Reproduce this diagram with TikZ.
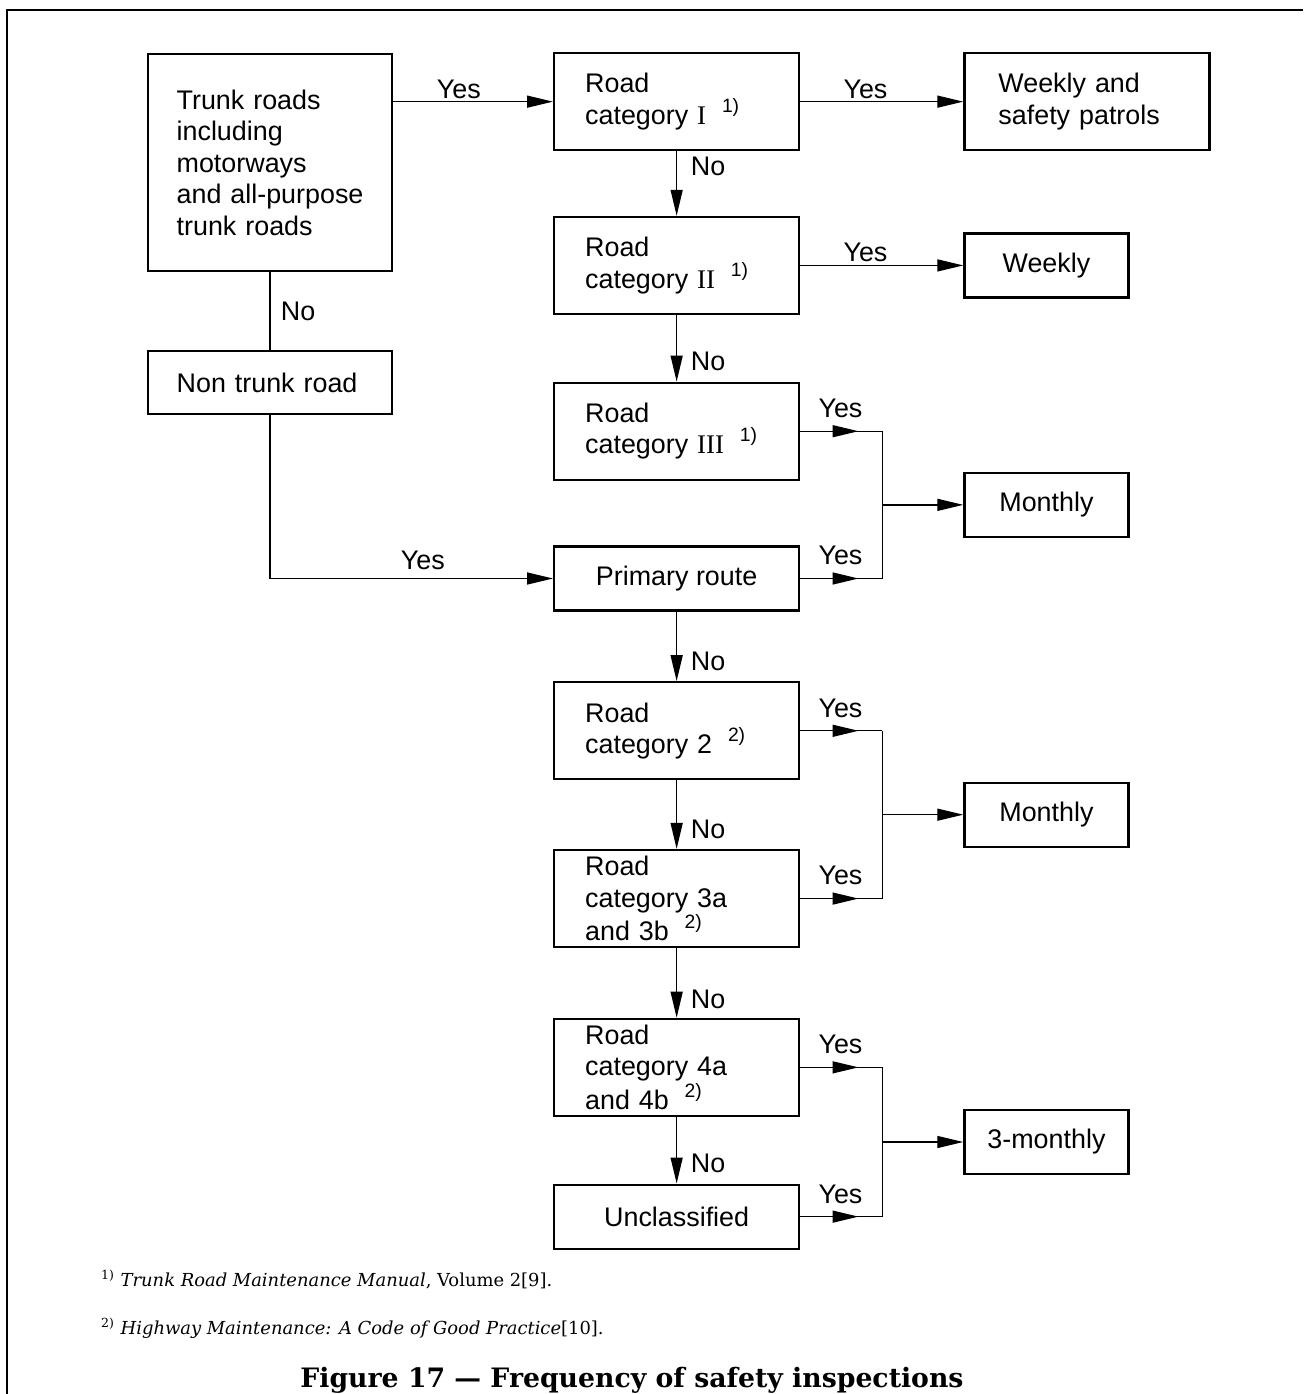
\documentclass[tikz,border=0pt]{standalone}
\usepackage{fontspec}
\setmainfont{Liberation Sans}
\newfontfamily\romnum{Liberation Serif}
\newfontfamily\notefont{DejaVu Serif}
\usetikzlibrary{arrows.meta,positioning,calc,decorations.markings}

\newcommand{\fnref}[1]{\hspace{9pt}\raisebox{0.45em}{\fontsize{11}{12}\selectfont #1}}

\begin{document}
\begin{tikzpicture}[
    font=\fontsize{15.3}{17.9}\selectfont,
    node distance=1.4cm and 3.26cm,
    qbox/.style={rectangle, draw, line width=1.3pt, minimum width=4.9cm, minimum height=1.94cm, text width=3.66cm, align=left, inner xsep=0.62cm, inner ysep=0pt},
    qsmall/.style={rectangle, draw, line width=1.3pt, minimum width=4.9cm, minimum height=1.28cm, align=center},
    abox/.style={rectangle, draw, line width=1.3pt, minimum width=3.28cm, minimum height=1.28cm, align=center},
    arr/.style={-{Triangle[length=0.52cm, width=0.24cm]}, line width=0.8pt},
    link/.style={line width=0.8pt},
    midarr/.style={line width=0.8pt, decoration={markings, mark=at position 0.71 with {\arrow{Triangle[length=0.52cm, width=0.24cm]}}}, postaction=decorate},
    yes/.style={above, inner sep=1.5pt},
    yesb/.style={above, inner sep=1.5pt, yshift=0.2cm},
    no/.style={right, inner sep=1.5pt, xshift=0.22cm}
]
    \useasboundingbox (0,0) rectangle (26.06,-27.88);
    % page frame
    \draw[line width=1.7pt] (0.14,-27.88) -- (0.14,-0.2) -- (26.06,-0.2);

    % left column
    \node[qbox, anchor=north west, minimum width=4.88cm, minimum height=4.34cm, text width=3.74cm, inner xsep=0.57cm] (trunk) at (2.94,-1.06) {Trunk roads\\including\\motorways\\and all-purpose\\trunk roads};
    \node[qbox, below=1.55cm of trunk, minimum width=4.88cm, minimum height=1.26cm, text width=3.74cm, inner xsep=0.57cm] (nontrunk) {Non trunk road};

    % main column
    \node[qbox, anchor=north west] (cat1) at (11.06,-1.04) {Road\\category {\romnum I}\fnref{1)}};
    \node[qbox, below=1.29cm of cat1] (cat2) {Road\\category {\romnum II}\fnref{1)}};
    \node[qbox, below=1.33cm of cat2] (cat3) {Road\\category {\romnum III}\fnref{1)}};
    \node[qsmall, below=1.29cm of cat3] (prim) {Primary route};
    \node[qbox, below=1.39cm of prim] (cat2b) {Road\\category 2\fnref{2)}};
    \node[qbox, below=1.37cm of cat2b] (cat3a) {Road\\category 3a\\and 3b\fnref{2)}};
    \node[qbox, below=1.39cm of cat3a] (cat4a) {Road\\category 4a\\and 4b\fnref{2)}};
    \node[qsmall, below=1.33cm of cat4a] (uncl) {Unclassified};

    % outcomes
    \node[qbox, right=3.26cm of cat1, inner xsep=0.68cm, text width=3.54cm] (wsafe) {Weekly and\\safety patrols};
    \node[abox, right=3.26cm of cat2] (weekly) {Weekly};
    \coordinate (j1) at ($(cat3.east)!0.5!(prim.east) + (1.64,0)$);
    \coordinate (j2) at ($(cat2b.east)!0.5!(cat3a.east) + (1.64,0)$);
    \coordinate (j3) at ($(cat4a.east)!0.5!(uncl.east) + (1.64,0)$);
    \node[abox, right=1.62cm of j1] (month1) {Monthly};
    \node[abox, right=1.62cm of j2] (month2) {Monthly};
    \node[abox, right=1.62cm of j3] (month3) {3-monthly};

    % left part
    \draw[arr] (cat1.west -| trunk.east) -- node[yes, pos=0.41] {Yes} (cat1.west);
    \draw[link] (trunk) -- node[right, inner sep=1.5pt, xshift=0.15cm] {No} (nontrunk);
    \draw[arr] (nontrunk) |- node[yes, pos=0.77, yshift=0.1cm] {Yes} (prim);

    % down the column
    \draw[arr] (cat1) -- node[no, pos=0.24] {No} (cat2);
    \draw[arr] (cat2) -- node[no, pos=0.7] {No} (cat3);
    \draw[arr] (prim) -- node[no, pos=0.71] {No} (cat2b);
    \draw[arr] (cat2b) -- node[no, pos=0.72] {No} (cat3a);
    \draw[arr] (cat3a) -- node[no, pos=0.73] {No} (cat4a);
    \draw[arr] (cat4a) -- node[no, pos=0.7] {No} (uncl);

    % straight to outcomes
    \draw[arr] (cat1) -- node[yes, pos=0.4] {Yes} (wsafe);
    \draw[arr] (cat2) -- node[yes, pos=0.4] {Yes} (weekly);

    % joined branches
    \draw[link] (cat3.east -| j1) -- (prim.east -| j1);
    \draw[midarr] (cat3.east) -- node[yesb, pos=0.49] {Yes} (cat3.east -| j1);
    \draw[midarr] (prim.east) -- node[yesb, pos=0.49] {Yes} (prim.east -| j1);
    \draw[arr] (j1) -- (month1);

    \draw[link] (cat2b.east -| j2) -- (cat3a.east -| j2);
    \draw[midarr] (cat2b.east) -- node[yesb, pos=0.49] {Yes} (cat2b.east -| j2);
    \draw[midarr] (cat3a.east) -- node[yesb, pos=0.49] {Yes} (cat3a.east -| j2);
    \draw[arr] (j2) -- (month2);

    \draw[link] (cat4a.east -| j3) -- (uncl.east -| j3);
    \draw[midarr] (cat4a.east) -- node[yesb, pos=0.49] {Yes} (cat4a.east -| j3);
    \draw[midarr] (uncl.east) -- node[yesb, pos=0.49] {Yes} (uncl.east -| j3);
    \draw[arr] (j3) -- (month3);

    % notes and caption
    \node[anchor=base west, font=\notefont\fontsize{10.2}{12}\selectfont] (note1) at (1.9,-25.72) {\textsuperscript{1)} \textit{Trunk Road Maintenance Manual}, Volume 2[9].};
    \node[anchor=base west, font=\notefont\fontsize{10.2}{12}\selectfont] (note2) at (1.9,-26.68) {\textsuperscript{2)} \textit{Highway Maintenance: A Code of Good Practice}[10].};
    \node[anchor=base, font=\notefont\bfseries\fontsize{15.2}{18}\selectfont] (caption) at (12.64,-27.74) {Figure 17 — Frequency of safety inspections};
\end{tikzpicture}
\end{document}
